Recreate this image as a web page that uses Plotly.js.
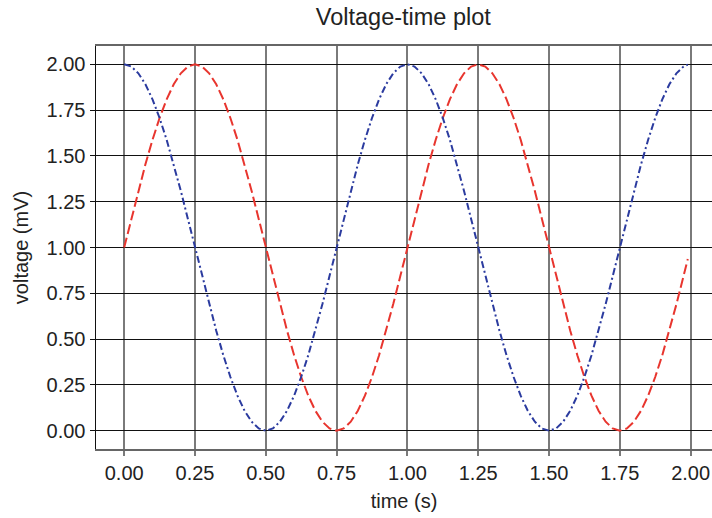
<!DOCTYPE html>
<html>
<head>
<meta charset="utf-8">
<script src="https://cdn.plot.ly/plotly-3.0.1.min.js"></script>
<style>html,body{margin:0;padding:0;background:#fff;}#chart{width:712px;height:518px;}</style>
</head>
<body>
<div id="chart"></div>
<script>
const time = [0.000,0.025,0.050,0.075,0.100,0.125,0.150,0.175,0.200,0.225,
  0.250,0.275,0.300,0.325,0.350,0.375,0.400,0.425,0.450,0.475,
  0.500,0.525,0.550,0.575,0.600,0.625,0.650,0.675,0.700,0.725,
  0.750,0.775,0.800,0.825,0.850,0.875,0.900,0.925,0.950,0.975,
  1.000,1.025,1.050,1.075,1.100,1.125,1.150,1.175,1.200,1.225,
  1.250,1.275,1.300,1.325,1.350,1.375,1.400,1.425,1.450,1.475,
  1.500,1.525,1.550,1.575,1.600,1.625,1.650,1.675,1.700,1.725,
  1.750,1.775,1.800,1.825,1.850,1.875,1.900,1.925,1.950,1.975,1.990];

const voltageRed = [1.000,1.156,1.309,1.454,1.588,1.707,1.809,1.891,1.951,1.988,
  2.000,1.988,1.951,1.891,1.809,1.707,1.588,1.454,1.309,1.156,
  1.000,0.844,0.691,0.546,0.412,0.293,0.191,0.109,0.049,0.012,
  0.000,0.012,0.049,0.109,0.191,0.293,0.412,0.546,0.691,0.844,
  1.000,1.156,1.309,1.454,1.588,1.707,1.809,1.891,1.951,1.988,
  2.000,1.988,1.951,1.891,1.809,1.707,1.588,1.454,1.309,1.156,
  1.000,0.844,0.691,0.546,0.412,0.293,0.191,0.109,0.049,0.012,
  0.000,0.012,0.049,0.109,0.191,0.293,0.412,0.546,0.691,0.844,0.937];

const voltageBlue = [2.000,1.988,1.951,1.891,1.809,1.707,1.588,1.454,1.309,1.156,
  1.000,0.844,0.691,0.546,0.412,0.293,0.191,0.109,0.049,0.012,
  0.000,0.012,0.049,0.109,0.191,0.293,0.412,0.546,0.691,0.844,
  1.000,1.156,1.309,1.454,1.588,1.707,1.809,1.891,1.951,1.988,
  2.000,1.988,1.951,1.891,1.809,1.707,1.588,1.454,1.309,1.156,
  1.000,0.844,0.691,0.546,0.412,0.293,0.191,0.109,0.049,0.012,
  0.000,0.012,0.049,0.109,0.191,0.293,0.412,0.546,0.691,0.844,
  1.000,1.156,1.309,1.454,1.588,1.707,1.809,1.891,1.951,1.988,1.998];

const xTicks = [0, 0.25, 0.5, 0.75, 1.0, 1.25, 1.5, 1.75, 2.0];
const xTickLabels = ['0.00','0.25','0.50','0.75','1.00','1.25','1.50','1.75','2.00'];
const yTicks = [0, 0.25, 0.5, 0.75, 1.0, 1.25, 1.5, 1.75, 2.0];
const yTickLabels = ['0.00','0.25','0.50','0.75','1.00','1.25','1.50','1.75','2.00'];

const font = 'Liberation Sans, Arial, sans-serif';

const traces = [
  {x: time, y: voltageRed, type: 'scatter', mode: 'lines', showlegend: false,
   line: {color: '#e8352e', width: 2, dash: '10px,4px'}},
  {x: time, y: voltageBlue, type: 'scatter', mode: 'lines', showlegend: false,
   line: {color: '#2b3b9f', width: 2, dash: '7px,3px,2px,3px'}}
];

const layout = {
  width: 712, height: 518,
  margin: {l: 96, r: 0, t: 46, b: 69, pad: 0},
  paper_bgcolor: '#fff', plot_bgcolor: '#fff',
  font: {family: font, size: 20, color: '#222'},
  title: {text: 'Voltage-time plot', font: {family: font, size: 23.5, color: '#222'},
          x: 0.5665, xanchor: 'center', y: 0.967, yanchor: 'middle', yref: 'container'},
  xaxis: {
    range: [-0.0995, 2.0755], tickvals: xTicks, ticktext: xTickLabels,
    showgrid: true, gridcolor: '#7a7a7a', gridwidth: 2,
    showline: true, linecolor: '#666', linewidth: 2, mirror: true,
    ticks: 'outside', ticklen: 5, tickcolor: '#7a7a7a', tickwidth: 2,
    zeroline: false, tickfont: {family: font, size: 20, color: '#222'},
    title: {text: 'time (s)', font: {family: font, size: 20, color: '#222'}, standoff: 11}
  },
  yaxis: {
    range: [-0.1, 2.1], tickvals: yTicks, ticktext: yTickLabels,
    showgrid: true, gridcolor: '#111', gridwidth: 1,
    showline: true, linecolor: '#111', linewidth: 1.5,
    ticks: 'outside', ticklen: 5, tickcolor: '#111', tickwidth: 1,
    zeroline: false, tickfont: {family: font, size: 20, color: '#222'},
    title: {text: 'voltage (mV)', font: {family: font, size: 20, color: '#222'}, standoff: 12}
  }
};

Plotly.newPlot('chart', traces, layout, {displayModeBar: false, staticPlot: true});
</script>
</body>
</html>
